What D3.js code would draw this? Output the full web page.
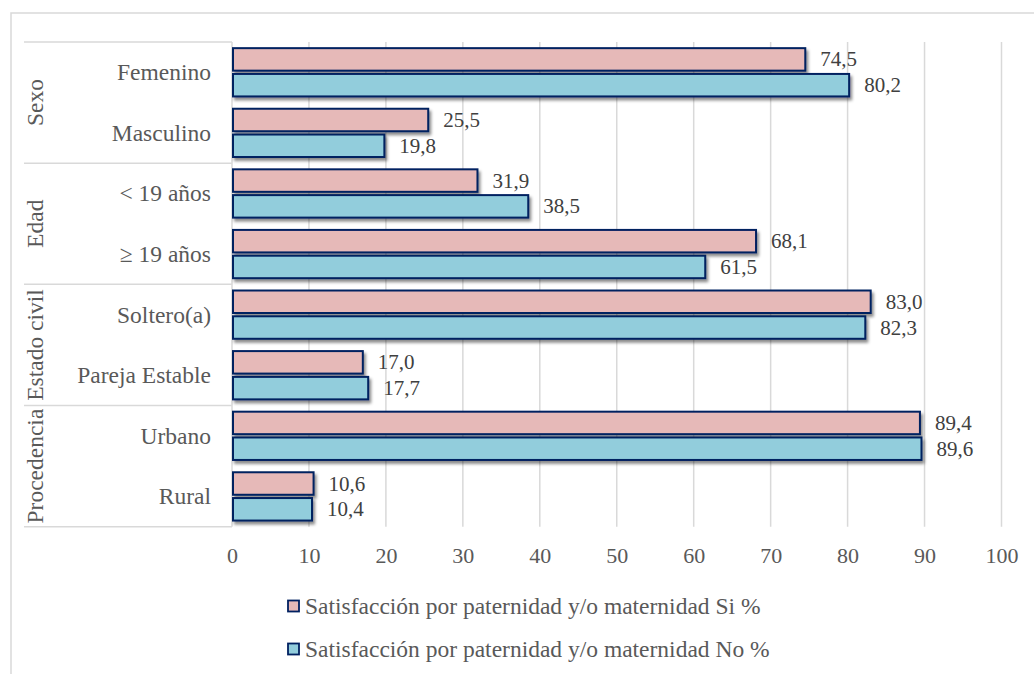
<!DOCTYPE html>
<html>
<head>
<meta charset="utf-8">
<script src="https://cdn.jsdelivr.net/npm/d3@7"></script>
</head>
<body style="margin:0;padding:0;background:#fff">
<svg id="chart" width="1034" height="674" font-family="Liberation Serif" style="display:block"></svg>
<script>
const groups = ["Sexo", "Edad", "Estado civil", "Procedencia"];
const categories = ["Femenino", "Masculino", "< 19 años", "≥ 19 años", "Soltero(a)", "Pareja Estable", "Urbano", "Rural"];
const categoryGroup = ["Sexo", "Sexo", "Edad", "Edad", "Estado civil", "Estado civil", "Procedencia", "Procedencia"];
const seriesNames = ["Satisfacción por paternidad y/o maternidad Si %", "Satisfacción por paternidad y/o maternidad No %"];
const siValues = [74.5, 25.5, 31.9, 68.1, 83.0, 17.0, 89.4, 10.6];
const noValues = [80.2, 19.8, 38.5, 61.5, 82.3, 17.7, 89.6, 10.4];
const tickValues = [0, 10, 20, 30, 40, 50, 60, 70, 80, 90, 100];

const FONT = "Liberation Serif";
const colors = ["#E6B9B8", "#92CDDC"];
const strokeColor = "#002060";
const gridColor = "#D9D9D9";

const svg = d3.select("#chart");
const defs = svg.append("defs");
const f = defs.append("filter").attr("id", "shadow").attr("x", "-10%").attr("y", "-30%").attr("width", "130%").attr("height", "180%");
f.append("feDropShadow").attr("dx", 2).attr("dy", 3).attr("stdDeviation", 1.6).attr("flood-color", "#000").attr("flood-opacity", 0.45);

// outer frame (cropped)
svg.append("rect").attr("x", 11).attr("y", 13).attr("width", 1060).attr("height", 720)
  .attr("fill", "none").attr("stroke", gridColor).attr("stroke-width", 1.5);

const plotLeft = 232, plotRight = 1001.5, plotTop = 42, plotBottom = 526.7;
const x = d3.scaleLinear().domain([0, 100]).range([plotLeft, plotRight]);
const y0 = d3.scaleBand().domain(categories).range([plotTop, plotBottom]).padding(0);
const y1 = d3.scaleBand().domain([0, 1]).range([0, y0.bandwidth()]).paddingInner(0.05).paddingOuter(0.2);

// gridlines
svg.append("g").selectAll("line").data(tickValues.filter(d => d > 0)).join("line")
  .attr("x1", d => x(d)).attr("x2", d => x(d))
  .attr("y1", plotTop).attr("y2", plotBottom)
  .attr("stroke", gridColor).attr("stroke-width", 1.5);

// tick labels via axis
const xAxis = d3.axisBottom(x).tickValues(tickValues).tickSize(0).tickPadding(0).tickFormat(d3.format("d"));
const gx = svg.append("g").attr("transform", `translate(0,${plotBottom})`).call(xAxis)
  .attr("font-family", FONT).attr("font-size", 22);
gx.select(".domain").remove();
gx.selectAll("text").attr("font-family", FONT).attr("font-size", 22)
  .attr("fill", "#595959").attr("dy", null).attr("y", 36);

// category axis box
const catG = svg.append("g").attr("font-family", FONT);
const boundaries = [plotTop];
groups.forEach(g => {
  const idx = categoryGroup.lastIndexOf(g);
  boundaries.push(y0(categories[idx]) + y0.bandwidth());
});
catG.selectAll("line.h").data(boundaries).join("line").attr("class", "h")
  .attr("x1", 24).attr("x2", plotLeft).attr("y1", d => d).attr("y2", d => d)
  .attr("stroke", gridColor).attr("stroke-width", 1.5);
catG.append("line").attr("x1", plotLeft).attr("x2", plotLeft).attr("y1", plotTop).attr("y2", plotBottom)
  .attr("stroke", gridColor).attr("stroke-width", 1.5);

catG.selectAll("text.cat").data(categories).join("text").attr("class", "cat")
  .attr("x", 211).attr("y", d => y0(d) + y0.bandwidth() / 2 + 8)
  .attr("text-anchor", "end").attr("font-family", FONT).attr("font-size", 23.5).attr("fill", "#595959").text(d => d);

catG.selectAll("text.grp").data(groups).join("text").attr("class", "grp")
  .attr("transform", (g, i) => `translate(43,${(boundaries[i] + boundaries[i + 1]) / 2}) rotate(-90)`)
  .attr("text-anchor", "middle").attr("font-family", FONT).attr("font-size", 23.5).attr("fill", "#595959").text(d => d);

// bars
const seriesValues = [siValues, noValues];
const barG = svg.append("g");
seriesValues.forEach((vals, s) => {
  barG.selectAll(`rect.s${s}`).data(vals).join("rect").attr("class", `s${s}`)
    .attr("x", x(0) + 1)
    .attr("y", (v, i) => y0(categories[i]) + y1(s) + 1)
    .attr("width", v => x(v) - x(0) - 1)
    .attr("height", y1.bandwidth() - 2)
    .attr("fill", colors[s]).attr("stroke", strokeColor).attr("stroke-width", 2)
    .attr("filter", "url(#shadow)");
});
const fmt = v => d3.format(".1f")(v).replace(".", ",");
seriesValues.forEach((vals, s) => {
  barG.selectAll(`text.l${s}`).data(vals).join("text").attr("class", `l${s}`)
    .attr("x", v => x(v) + 15)
    .attr("y", (v, i) => y0(categories[i]) + y1(s) + y1.bandwidth() / 2 + 7)
    .attr("font-family", FONT).attr("font-size", 21).attr("fill", "#404040").text(fmt);
});

// legend
const leg = svg.append("g");
seriesNames.forEach((name, s) => {
  const cy = 606 + s * 43;
  leg.append("rect").attr("x", 288).attr("y", cy - 5.5).attr("width", 11).attr("height", 11)
    .attr("fill", colors[s]).attr("stroke", strokeColor).attr("stroke-width", 1.8);
  leg.append("text").attr("x", 305).attr("y", cy + 8).attr("font-family", FONT).attr("font-size", 23.5).attr("fill", "#595959").text(name);
});
</script>
</body>
</html>
